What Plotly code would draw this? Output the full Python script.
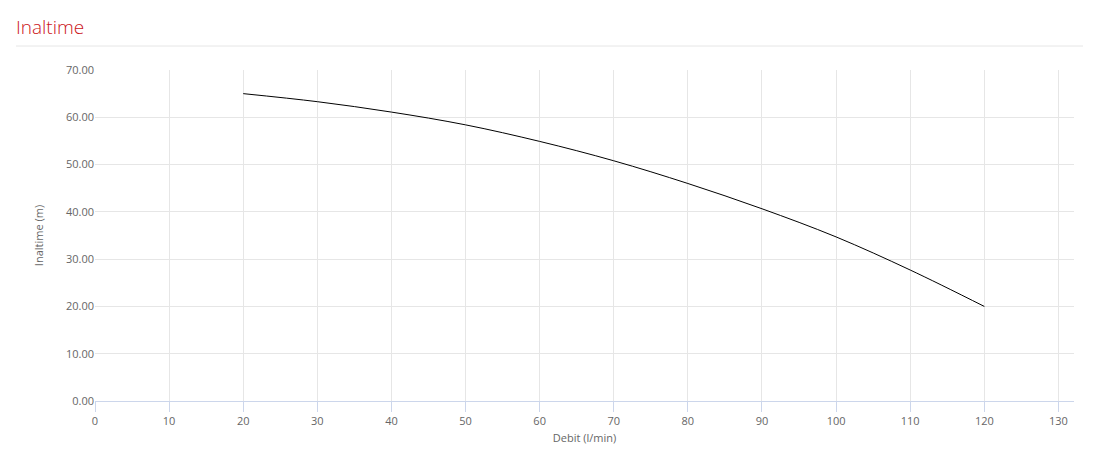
import plotly.graph_objects as go

debit = [20, 30, 40, 50, 60, 70, 80, 90, 100, 110, 120]
inaltime = [65.0, 63.3, 61.1, 58.4, 54.9, 50.8, 46.0, 40.65, 34.7, 27.7, 20.0]

x_ticks = list(range(0, 131, 10))
y_ticks = [0, 10, 20, 30, 40, 50, 60, 70]
y_labels = [f"{v:.2f}" for v in y_ticks]

# page body has an 8px margin, so the figure is placed at (8, 8)
OFF = 8
W, H = 1098 - OFF, 471 - OFF
ml, mr, mt, mb = 95 - OFF, 24, 70 - OFF, 70
pw = W - ml - mr
ph = H - mt - mb

fig = go.Figure()
fig.add_trace(go.Scatter(
    x=debit, y=inaltime, mode="lines",
    line=dict(color="#000000", width=1, shape="spline", smoothing=1.0),
    hoverinfo="x+y", showlegend=False,
))

font = "Open Sans, Noto Sans, sans-serif"
fig.update_layout(
    width=W, height=H,
    margin=dict(l=ml, r=mr, t=mt, b=mb),
    paper_bgcolor="#ffffff", plot_bgcolor="#ffffff",
    font=dict(family=font, size=11, color="#666666"),
    title=dict(text="Inaltime", x=(16 - OFF) / W, xref="container", xanchor="left",
               y=1 - (27 - OFF) / H, yref="container", yanchor="middle",
               font=dict(family=font, size=19, color="#cc1420", weight=300)),
    xaxis=dict(range=[0, 132.1], tickvals=x_ticks, ticktext=[str(v) for v in x_ticks],
               showgrid=True, gridcolor="#e6e6e6", gridwidth=1,
               showline=True, linecolor="#ccd6eb", linewidth=1,
               ticks="outside", ticklen=10, tickcolor="#ccd6eb", tickwidth=1,
               zeroline=False, tickfont=dict(size=11, color="#666666"),
               title=dict(text="Debit (l/min)", standoff=7,
                          font=dict(size=11, color="#666666"))),
    yaxis=dict(range=[0, 70], tickvals=y_ticks, ticktext=y_labels,
               showgrid=True, gridcolor="#e6e6e6", gridwidth=1,
               showline=False, zeroline=False, ticks="", ticklen=0,
               tickfont=dict(size=11, color="#666666"),
               title=dict(text="Inaltime (m)", standoff=20,
                          font=dict(size=11, color="#666666"))),
    shapes=[dict(type="line", xref="paper", yref="paper",
                 x0=(16 - 95) / pw, x1=(1083 - 95) / pw,
                 y0=(401 - 46) / ph, y1=(401 - 46) / ph,
                 line=dict(color="#e6e6e6", width=1))],
)

fig.write_html("out.html")
